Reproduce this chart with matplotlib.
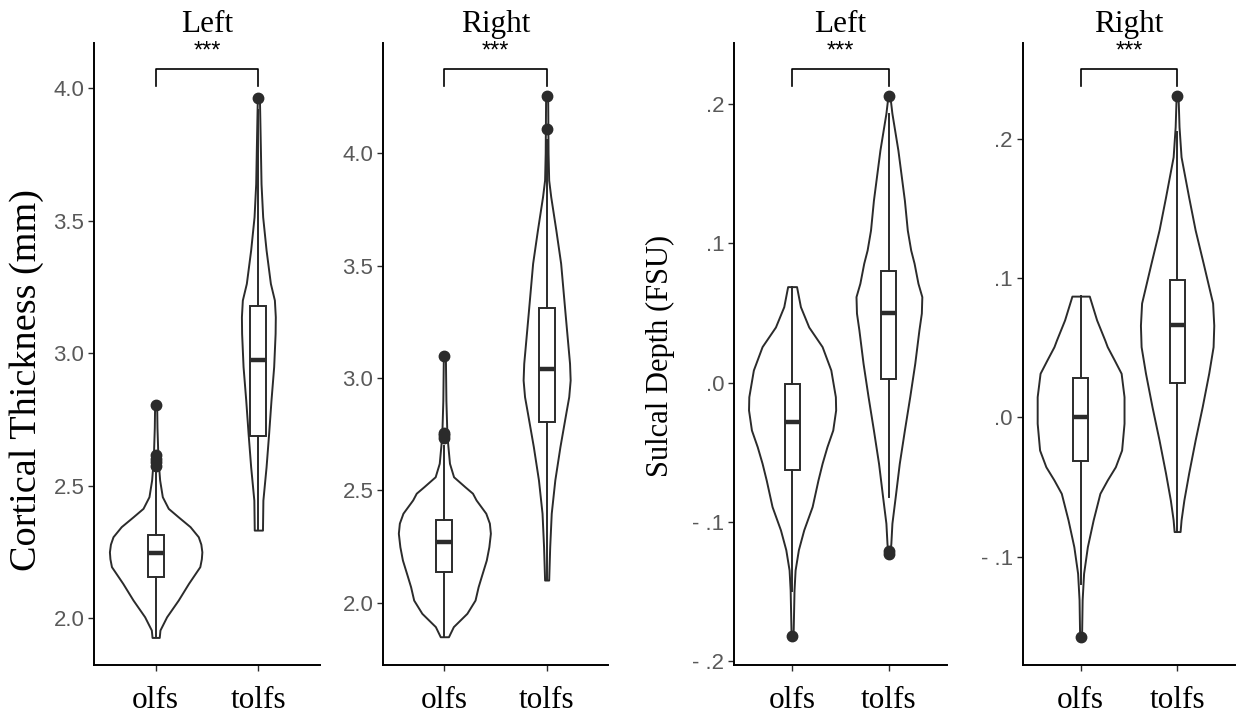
import matplotlib
matplotlib.use("Agg")
import matplotlib.pyplot as plt
import matplotlib.transforms as mtransforms

# ---- data ---------------------------------------------------------------
GROUPS = ["olfs", "tolfs"]

# violin outlines: y values and half-widths (x units, category spacing = 1)
CT_L_OLFS_Y = [1.928, 1.956, 2.006, 2.069, 2.132, 2.195, 2.225, 2.251, 2.28,
               2.308, 2.346, 2.383, 2.415, 2.459, 2.522, 2.572, 2.635, 2.72,
               2.804]
CT_L_OLFS_W = [0.035, 0.042, 0.107, 0.22, 0.32, 0.43, 0.445, 0.45, 0.44,
               0.415, 0.335, 0.22, 0.123, 0.065, 0.039, 0.029, 0.02, 0.013,
               0.01]
CT_L_TOLFS_Y = [2.333, 2.446, 2.572, 2.698, 2.824, 2.95, 3.075, 3.138, 3.201,
                3.264, 3.39, 3.515, 3.64, 3.767, 3.968]
CT_L_TOLFS_W = [0.04, 0.044, 0.075, 0.10, 0.123, 0.149, 0.163, 0.165, 0.156,
                0.117, 0.075, 0.042, 0.026, 0.02, 0.01]

CT_R_OLFS_Y = [1.850, 1.895, 1.954, 2.013, 2.072, 2.117, 2.191, 2.25, 2.31,
               2.355, 2.399, 2.458, 2.488, 2.517, 2.561, 2.621, 2.695, 2.747,
               2.90, 3.098]
CT_R_OLFS_W = [0.04, 0.088, 0.22, 0.30, 0.33, 0.36, 0.41, 0.435, 0.45,
               0.44, 0.405, 0.31, 0.275, 0.20, 0.09, 0.05, 0.035, 0.025,
               0.015, 0.01]
CT_R_TOLFS_Y = [2.102, 2.25, 2.399, 2.547, 2.695, 2.843, 2.917, 2.991, 3.065,
                3.288, 3.51, 3.658, 3.806, 3.88, 4.0, 4.253]
CT_R_TOLFS_W = [0.02, 0.03, 0.045, 0.08, 0.13, 0.187, 0.216, 0.23, 0.224,
                0.18, 0.137, 0.09, 0.04, 0.02, 0.014, 0.01]

SD_L_OLFS_Y = [-0.1825, -0.149, -0.1346, -0.120, -0.1058, -0.089, -0.070,
               -0.0579, -0.046, -0.034, -0.0196, -0.0101, 0.0091, 0.0259,
               0.040, 0.0546, 0.069]
SD_L_OLFS_W = [0.01, 0.02, 0.031, 0.065, 0.12, 0.207, 0.267, 0.31, 0.36, 0.42,
               0.45, 0.447, 0.40, 0.31, 0.172, 0.086, 0.046]
SD_L_TOLFS_Y = [-0.123, -0.1154, -0.101, -0.082, -0.058, -0.034, -0.0101,
                0.0139, 0.0379, 0.050, 0.0618, 0.0714, 0.0858, 0.0953, 0.1096,
                0.131, 0.167, 0.1935, 0.203]
SD_L_TOLFS_W = [0.01, 0.02, 0.031, 0.065, 0.107, 0.16, 0.215, 0.267, 0.31,
                0.335, 0.34, 0.30, 0.26, 0.225, 0.19, 0.16, 0.093, 0.031, 0.015]

SD_R_OLFS_Y = [-0.1575, -0.131, -0.112, -0.0929, -0.0737, -0.0546, -0.045,
               -0.0355, -0.0235, -0.0043, 0.0148, 0.0316, 0.041, 0.0507,
               0.0555, 0.0699, 0.087]
SD_R_OLFS_W = [0.01, 0.016, 0.031, 0.07, 0.13, 0.20, 0.276, 0.36, 0.425, 0.45,
               0.45, 0.42, 0.35, 0.276, 0.25, 0.166, 0.09]
SD_R_TOLFS_Y = [-0.082, -0.0737, -0.0594, -0.040, -0.0163, 0.0076, 0.0318,
                0.0507, 0.066, 0.082, 0.1107, 0.1345, 0.158, 0.187, 0.2086,
                0.2307]
SD_R_TOLFS_W = [0.031, 0.041, 0.07, 0.12, 0.187, 0.26, 0.328, 0.373, 0.38,
                0.368, 0.27, 0.187, 0.12, 0.041, 0.02, 0.01]

# boxplots: [whisker low, q1, median, q3, whisker high] and outliers
CT_L_BOX = [[1.928, 2.155, 2.245, 2.314, 2.55], [2.333, 2.688, 2.975, 3.18, 3.92]]
CT_L_OUT = [[2.575, 2.59, 2.60, 2.615, 2.804], [3.965]]
CT_R_BOX = [[1.850, 2.138, 2.27, 2.37, 2.70], [2.102, 2.806, 3.039, 3.31, 4.06]]
CT_R_OUT = [[2.735, 2.745, 2.755, 3.098], [4.107, 4.253]]
SD_L_BOX = [[-0.150, -0.0627, -0.028, -0.001, 0.069], [-0.082, 0.0024, 0.0498, 0.0805, 0.193]]
SD_L_OUT = [[-0.182], [-0.121, -0.123, 0.206]]
SD_R_BOX = [[-0.12, -0.0314, 0.0, 0.028, 0.087], [-0.082, 0.0248, 0.0663, 0.0986, 0.205]]
SD_R_OUT = [[-0.1575], [0.2307]]

CT_TICKS = [2.0, 2.5, 3.0, 3.5, 4.0]
CT_TICKLABELS = ["2.0", "2.5", "3.0", "3.5", "4.0"]
SD_L_TICKS = [-0.2, -0.1, 0.0, 0.1, 0.2]
SD_L_TICKLABELS = ["- .2", "- .1", ".0", ".1", ".2"]
SD_R_TICKS = [-0.1, 0.0, 0.1, 0.2]
SD_R_TICKLABELS = ["- .1", ".0", ".1", ".2"]

W, H = 1238, 717
INK = "#2b2b2b"
SERIF = ["Liberation Serif", "DejaVu Serif"]
SANS = ["Liberation Sans", "DejaVu Sans"]


def rect(left, right, top=43, bottom=665):
    return [left / W, (H - bottom) / H, (right - left) / W, (bottom - top) / H]


panels = [
    dict(rect=rect(94, 320), ylim=(1.824, 4.171), title="Left",
         violins=[(CT_L_OLFS_Y, CT_L_OLFS_W), (CT_L_TOLFS_Y, CT_L_TOLFS_W)],
         box=CT_L_BOX, out=CT_L_OUT, ticks=CT_TICKS, labels=CT_TICKLABELS),
    dict(rect=rect(383, 608), ylim=(1.7244, 4.489), title="Right",
         violins=[(CT_R_OLFS_Y, CT_R_OLFS_W), (CT_R_TOLFS_Y, CT_R_TOLFS_W)],
         box=CT_R_BOX, out=CT_R_OUT, ticks=CT_TICKS, labels=CT_TICKLABELS),
    dict(rect=rect(734, 947), ylim=(-0.2028, 0.244), title="Left",
         violins=[(SD_L_OLFS_Y, SD_L_OLFS_W), (SD_L_TOLFS_Y, SD_L_TOLFS_W)],
         box=SD_L_BOX, out=SD_L_OUT, ticks=SD_L_TICKS, labels=SD_L_TICKLABELS),
    dict(rect=rect(1022.7, 1235), ylim=(-0.1778, 0.2687), title="Right",
         violins=[(SD_R_OLFS_Y, SD_R_OLFS_W), (SD_R_TOLFS_Y, SD_R_TOLFS_W)],
         box=SD_R_BOX, out=SD_R_OUT, ticks=SD_R_TICKS, labels=SD_R_TICKLABELS),
]

fig = plt.figure(figsize=(W / 100, H / 100), dpi=100)

for p in panels:
    ax = fig.add_axes(p["rect"])
    pos = [1, 2]
    for x, (ys, ws) in zip(pos, p["violins"]):
        ax.fill_betweenx(ys, [x - w for w in ws], [x + w for w in ws],
                         facecolor="white", edgecolor=INK, lw=1.4,
                         joinstyle="round", zorder=2)
    stats = []
    for b, o in zip(p["box"], p["out"]):
        stats.append(dict(whislo=b[0], q1=b[1], med=b[2], q3=b[3], whishi=b[4],
                          fliers=o))
    ax.bxp(stats, positions=pos, widths=0.155, showcaps=False, patch_artist=True,
           boxprops=dict(facecolor="white", edgecolor=INK, lw=1.4),
           medianprops=dict(color=INK, lw=3.2, solid_capstyle="butt"),
           whiskerprops=dict(color=INK, lw=1.4),
           flierprops=dict(marker="o", markerfacecolor=INK, markeredgecolor=INK,
                           markersize=7.5),
           zorder=3)

    ax.set_xlim(0.4, 2.6)
    ax.set_ylim(*p["ylim"])
    ax.set_xticks(pos)
    ax.set_xticklabels(GROUPS, fontsize=22.5, family=SERIF, color="black")
    ax.set_yticks(p["ticks"])
    ax.set_yticklabels(p["labels"], fontsize=16, family=SANS, color="#595959")
    ax.tick_params(axis="both", length=4, width=1.0, color=INK)
    ax.tick_params(axis="x", pad=11)
    ax.tick_params(axis="y", pad=3)
    for side in ("top", "right"):
        ax.spines[side].set_visible(False)
    for side in ("left", "bottom"):
        ax.spines[side].set_linewidth(1.4)
        ax.spines[side].set_color("black")
    ax.set_title(p["title"], fontsize=22.5, family=SERIF, pad=8)

    # significance bracket
    trans = mtransforms.blended_transform_factory(ax.transData, ax.transAxes)
    ax.plot([1, 1, 2, 2], [0.931, 0.958, 0.958, 0.931], color="black", lw=1.2,
            transform=trans, clip_on=False)
    ax.text(1.5, 0.968, "***", transform=trans, ha="center", va="bottom",
            fontsize=17, family=SANS, color="black")

fig.text(27 / W, 1 - 380 / H, "Cortical Thickness (mm)", rotation=90,
         ha="center", va="center", fontsize=27.5, family=SERIF)
fig.text(660 / W, 1 - 356 / H, "Sulcal Depth (FSU)", rotation=90,
         ha="center", va="center", fontsize=22, family=SERIF)

fig.savefig("out.png", dpi=100)
